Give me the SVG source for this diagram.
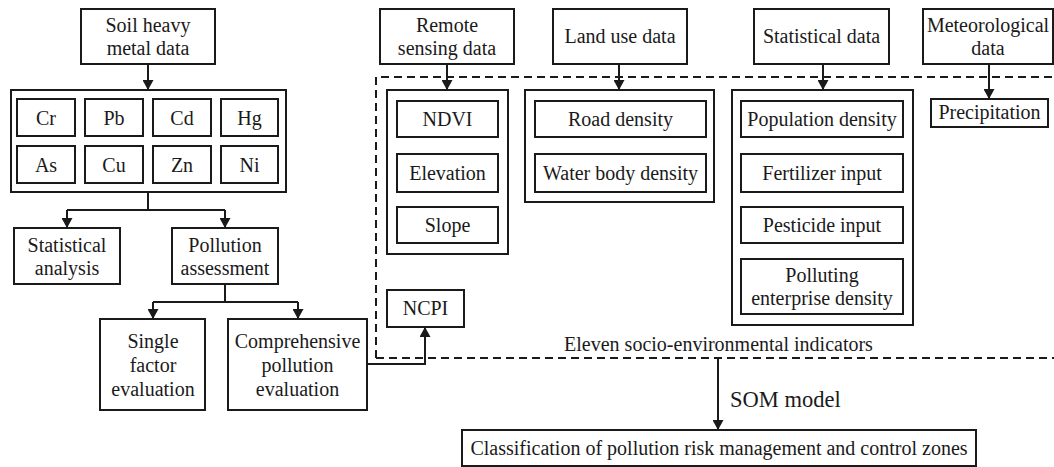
<svg xmlns="http://www.w3.org/2000/svg" width="1054" height="467" viewBox="0 0 1054 467">
<style>
rect{fill:#fff;stroke:#1a1a1a;stroke-width:2}
text{font-family:"Liberation Serif","Times New Roman",serif;font-size:20px;fill:#1a1a1a;text-anchor:middle}
.c{fill:none;stroke:#1a1a1a;stroke-width:2}
.a{marker-end:url(#ah)}
.d{fill:none;stroke:#1a1a1a;stroke-width:2;stroke-dasharray:8 5}
</style>
<defs>
<marker id="ah" markerUnits="userSpaceOnUse" markerWidth="10" markerHeight="11" refX="10" refY="5.5" orient="auto" viewBox="0 0 10 11">
<path d="M0,0 L10,5.5 L0,11 z" fill="#1a1a1a"/>
</marker>
</defs>
<rect width="1054" height="467" style="stroke:none"/>
<path class="d" d="M376,358 L376,77 L1060,77 M376,358 L1060,358"/>
<g id="connectors">
<path class="c a" d="M148,64 L148,90"/>
<path class="c" d="M148,192 L148,210 M67,210 L225,210"/>
<path class="c a" d="M67,210 L67,228"/>
<path class="c a" d="M225,210 L225,228"/>
<path class="c" d="M225,284 L225,302 M153,302 L298,302"/>
<path class="c a" d="M153,302 L153,319"/>
<path class="c a" d="M298,302 L298,319"/>
<path class="c a" d="M367,364 L425,364 L425,327"/>
<path class="c a" d="M447,64 L447,90"/>
<path class="c a" d="M619,64 L619,90"/>
<path class="c a" d="M823,64 L823,90"/>
<path class="c a" d="M989,64 L989,99"/>
<path class="c a" d="M718,358 L718,430"/>
</g>
<g id="soil"><rect x="81" y="9" width="134" height="55"/><text x="148" y="32">Soil heavy</text><text x="148" y="55">metal data</text></g>
<g id="metals">
<rect x="11" y="90" width="275" height="102"/>
<rect x="17" y="99" width="58" height="37"/><text x="46" y="125">Cr</text>
<rect x="85" y="99" width="58" height="37"/><text x="114" y="125">Pb</text>
<rect x="153" y="99" width="58" height="37"/><text x="182" y="125">Cd</text>
<rect x="221" y="99" width="57" height="37"/><text x="249.5" y="125">Hg</text>
<rect x="17" y="146" width="58" height="37"/><text x="46" y="172">As</text>
<rect x="85" y="146" width="58" height="37"/><text x="114" y="172">Cu</text>
<rect x="153" y="146" width="58" height="37"/><text x="182" y="172">Zn</text>
<rect x="221" y="146" width="57" height="37"/><text x="249.5" y="172">Ni</text>
</g>
<g id="stat-analysis"><rect x="14" y="228" width="106" height="56"/><text x="67" y="252">Statistical</text><text x="67" y="275">analysis</text></g>
<g id="pollution-assessment"><rect x="172" y="228" width="106" height="56"/><text x="225" y="252">Pollution</text><text x="225" y="275">assessment</text></g>
<g id="single-factor"><rect x="100" y="319" width="105" height="91"/><text x="153" y="348">Single</text><text x="153" y="372">factor</text><text x="153" y="396">evaluation</text></g>
<g id="comprehensive"><rect x="228" y="319" width="139" height="91"/><text x="297.5" y="348">Comprehensive</text><text x="297.5" y="372">pollution</text><text x="297.5" y="396">evaluation</text></g>
<g id="ncpi"><rect x="387" y="290" width="77" height="37"/><text x="425.5" y="315">NCPI</text></g>
<g id="remote"><rect x="380" y="9" width="134" height="55"/><text x="447" y="32">Remote</text><text x="447" y="55">sensing data</text></g>
<g id="remote-group">
<rect x="387" y="90" width="121" height="164"/>
<rect x="397" y="101" width="101" height="36"/><text x="447.5" y="126">NDVI</text>
<rect x="397" y="154" width="101" height="38"/><text x="447.5" y="180">Elevation</text>
<rect x="397" y="207" width="101" height="36"/><text x="447.5" y="232">Slope</text>
</g>
<g id="landuse"><rect x="553" y="9" width="134" height="55"/><text x="620" y="43">Land use data</text></g>
<g id="land-group">
<rect x="525" y="90" width="189" height="112"/>
<rect x="535" y="101" width="171" height="36"/><text x="620.5" y="126">Road density</text>
<rect x="535" y="154" width="171" height="38"/><text x="620.5" y="180">Water body density</text>
</g>
<g id="statdata"><rect x="754" y="9" width="135" height="55"/><text x="821.5" y="43">Statistical data</text></g>
<g id="stat-group">
<rect x="732" y="90" width="181" height="235"/>
<rect x="741" y="101" width="162" height="36"/><text x="822" y="126">Population density</text>
<rect x="741" y="154" width="162" height="38"/><text x="822" y="180">Fertilizer input</text>
<rect x="741" y="207" width="162" height="36"/><text x="822" y="232">Pesticide input</text>
<rect x="741" y="259" width="162" height="55"/><text x="822" y="282">Polluting</text><text x="822" y="305">enterprise density</text>
</g>
<g id="meteo"><rect x="923" y="9" width="130" height="55"/><text x="988" y="32">Meteorological</text><text x="988" y="55">data</text></g>
<g id="precip"><rect x="931" y="99" width="117" height="28"/><text x="989.5" y="119">Precipitation</text></g>
<text x="718.5" y="351">Eleven socio-environmental indicators</text>
<text x="730" y="407" style="text-anchor:start;font-size:22.5px">SOM model</text>
<g id="classification"><rect x="462" y="430" width="514" height="36"/><text x="719" y="455">Classification of pollution risk management and control zones</text></g>
</svg>
